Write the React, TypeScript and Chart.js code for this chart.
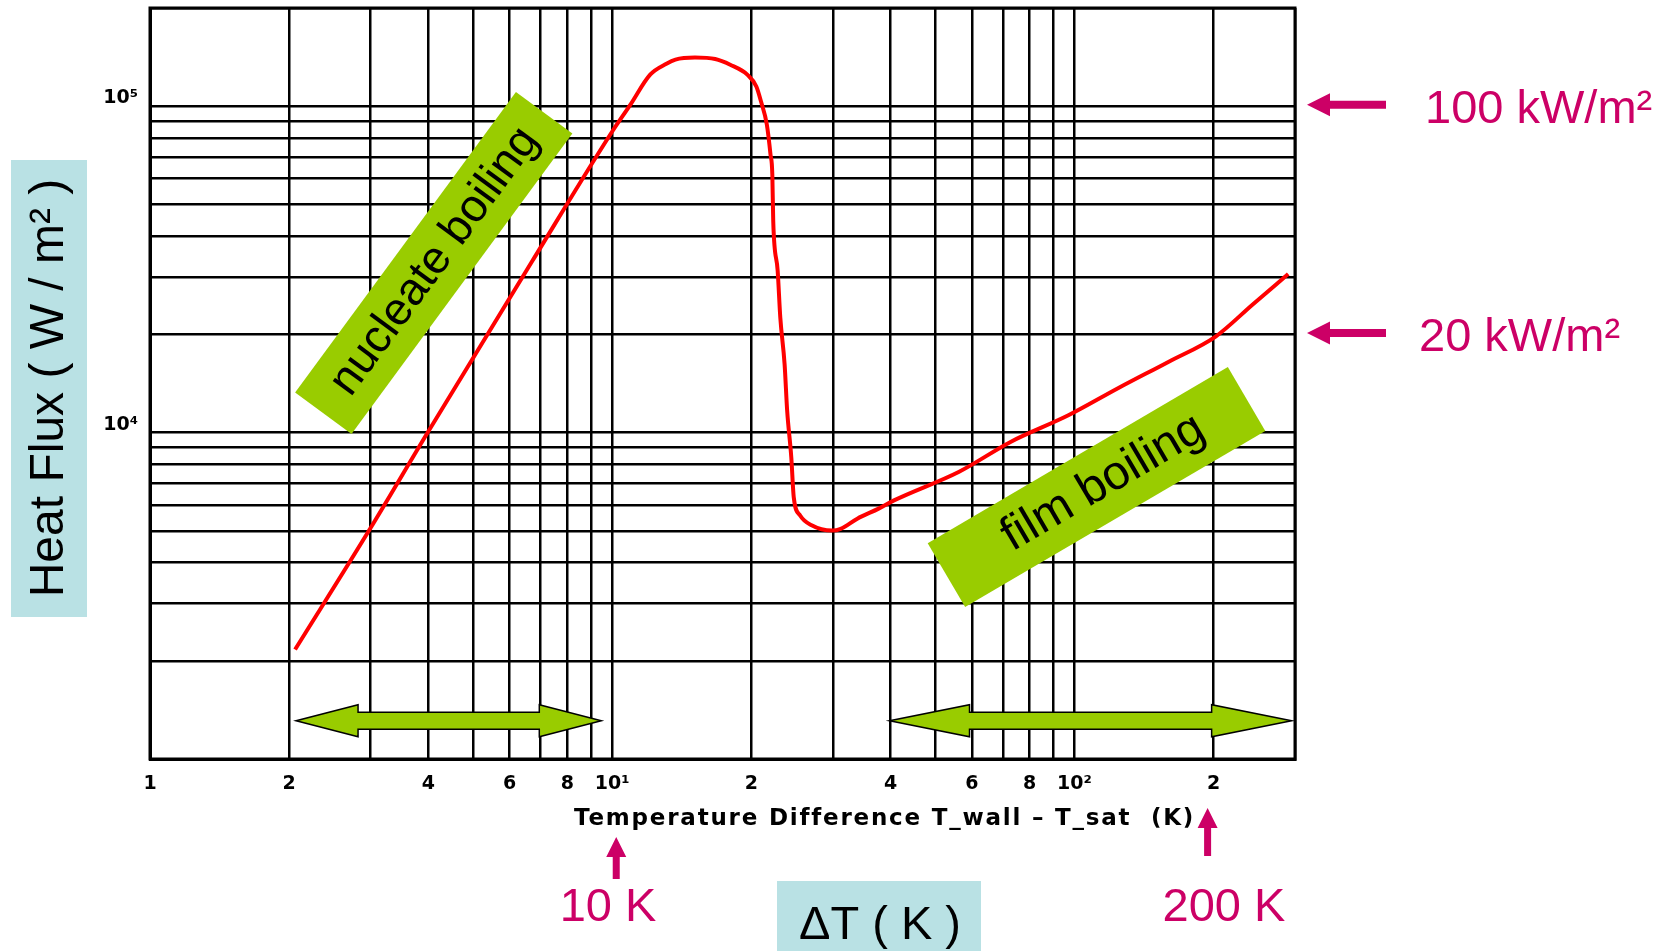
import React, { useEffect, useRef } from 'react';
import { Chart, registerables } from 'chart.js';

Chart.register(...registerables);

// ---- data ----
const deltaT = [2.06, 3.0, 3.97, 6.71, 10.0, 10.94, 12.08, 13.1, 13.7, 15.1, 16.7, 18.0, 19.6, 20.5, 21.0, 21.6, 22.0, 22.2, 22.3, 22.8, 23.1, 23.6, 23.9, 24.4, 24.7, 25.5, 27.0, 29.9, 31.2, 33.9, 37.7, 40.7, 56.3, 72.9, 97.0, 124.5, 160, 202, 243, 290];
const heatFlux = [2165, 5100, 9900, 33500, 83700, 101000, 125000, 135000, 139000, 141000, 139500, 134000, 125000, 115000, 103000, 87900, 71100, 61800, 44500, 31300, 22500, 16200, 11700, 8400, 6340, 5570, 5200, 5010, 5070, 5450, 5850, 6200, 7590, 9380, 11300, 13700, 16500, 19700, 24700, 30600];

const xGridValues = [1, 2, 3, 4, 5, 6, 7, 8, 9, 10, 20, 30, 40, 50, 60, 70, 80, 90, 100, 200, 300];
const xTickLabels = ['1', '2', '', '4', '', '6', '', '8', '', '10¹', '2', '', '4', '', '6', '', '8', '', '10²', '2', ''];
const yGridValues = [1000, 2000, 3000, 4000, 5000, 6000, 7000, 8000, 9000, 10000, 20000, 30000, 40000, 50000, 60000, 70000, 80000, 90000, 100000, 200000];
const yLabelValues = [10000, 100000];
const yLabelTexts = ['10⁴', '10⁵'];

const fluxMarkers = [100000, 20000];
const fluxMarkerLabels = ['100 kW/m²', '20 kW/m²'];
const dtMarkers = [10, 200];
const dtMarkerLabels = ['10 K', '200 K'];
const regionNames = ['nucleate boiling', 'film boiling'];
const regionCenterDT = [4.11, 111.6];
const regionCenterFlux = [33100, 6810];
const rangeStartDT = [2.07, 39.8];
const rangeEndDT = [9.47, 295];
const rangeFlux = 1310;

const X_TITLE = 'Temperature Difference T_wall – T_sat  (K)';
const Y_TITLE = 'Heat Flux ( W / m² )';
const DT_TITLE = 'ΔT ( K )';

// ---- styles ----
const MAGENTA = '#cc0066';
const GREEN = '#99cc00';
const LIGHTBLUE = '#b9e1e4';
const BIG_FONT = '47px "Liberation Sans", Arial, sans-serif';
const regionBoxes = [
  { w: 373, h: 70, angle: -53.7, font: 46, dx: 2 },
  { w: 348, h: 74, angle: -30.4, font: 48, dx: 8 },
];
const rangeHeads = [62, 80];

function hArrow(ctx: CanvasRenderingContext2D, tipX: number, tailX: number, y: number, head: number, headH: number, shaftH: number) {
  const d = tailX > tipX ? 1 : -1;
  const hx = tipX + d * head;
  ctx.beginPath();
  ctx.moveTo(tipX, y);
  ctx.lineTo(hx, y - headH / 2);
  ctx.lineTo(hx, y - shaftH / 2);
  ctx.lineTo(tailX, y - shaftH / 2);
  ctx.lineTo(tailX, y + shaftH / 2);
  ctx.lineTo(hx, y + shaftH / 2);
  ctx.lineTo(hx, y + headH / 2);
  ctx.closePath();
  ctx.fill();
}

function vArrowUp(ctx: CanvasRenderingContext2D, x: number, tipY: number, tailY: number, head: number, headW: number, shaftW: number) {
  const hy = tipY + head;
  ctx.beginPath();
  ctx.moveTo(x, tipY);
  ctx.lineTo(x + headW / 2, hy);
  ctx.lineTo(x + shaftW / 2, hy);
  ctx.lineTo(x + shaftW / 2, tailY);
  ctx.lineTo(x - shaftW / 2, tailY);
  ctx.lineTo(x - shaftW / 2, hy);
  ctx.lineTo(x - headW / 2, hy);
  ctx.closePath();
  ctx.fill();
}

function doubleArrow(ctx: CanvasRenderingContext2D, x1: number, x2: number, y: number, head: number, headH: number, shaftH: number) {
  ctx.beginPath();
  ctx.moveTo(x1, y);
  ctx.lineTo(x1 + head, y - headH / 2);
  ctx.lineTo(x1 + head, y - shaftH / 2);
  ctx.lineTo(x2 - head, y - shaftH / 2);
  ctx.lineTo(x2 - head, y - headH / 2);
  ctx.lineTo(x2, y);
  ctx.lineTo(x2 - head, y + headH / 2);
  ctx.lineTo(x2 - head, y + shaftH / 2);
  ctx.lineTo(x1 + head, y + shaftH / 2);
  ctx.lineTo(x1 + head, y + headH / 2);
  ctx.closePath();
  ctx.fillStyle = GREEN;
  ctx.fill();
  ctx.lineWidth = 1.5;
  ctx.strokeStyle = '#000';
  ctx.stroke();
}

const annotationPlugin = {
  id: 'boilingAnnotations',
  afterDraw(chart: any) {
    const { ctx, chartArea: a, scales } = chart;
    const xs = scales.x;
    const ys = scales.y;
    ctx.save();

    // frame
    ctx.strokeStyle = '#000';
    ctx.lineWidth = 3;
    ctx.strokeRect(a.left, a.top, a.right - a.left, a.bottom - a.top);

    // y tick labels
    ctx.fillStyle = '#000';
    ctx.font = 'bold 19px "DejaVu Sans", sans-serif';
    ctx.textAlign = 'right';
    ctx.textBaseline = 'middle';
    yLabelValues.forEach((v, i) => {
      ctx.fillText(yLabelTexts[i], a.left - 12, ys.getPixelForValue(v) - 8);
    });

    // green range arrows
    const ry = ys.getPixelForValue(rangeFlux);
    rangeStartDT.forEach((s, i) => {
      doubleArrow(ctx, xs.getPixelForValue(s), xs.getPixelForValue(rangeEndDT[i]), ry, rangeHeads[i], 32, 17);
    });

    // region label boxes
    regionNames.forEach((name, i) => {
      const b = regionBoxes[i];
      ctx.save();
      ctx.translate(xs.getPixelForValue(regionCenterDT[i]), ys.getPixelForValue(regionCenterFlux[i]));
      ctx.rotate((b.angle * Math.PI) / 180);
      ctx.fillStyle = GREEN;
      ctx.fillRect(-b.w / 2, -b.h / 2, b.w, b.h);
      ctx.fillStyle = '#000';
      ctx.font = `${b.font}px "Liberation Sans", Arial, sans-serif`;
      ctx.textAlign = 'center';
      ctx.textBaseline = 'middle';
      ctx.fillText(name, b.dx, 0);
      ctx.restore();
    });

    // x-axis caption (small)
    ctx.fillStyle = '#000';
    ctx.font = 'bold 23px "DejaVu Sans", sans-serif';
    ctx.textAlign = 'left';
    ctx.textBaseline = 'middle';
    const natural = ctx.measureText(X_TITLE).width;
    const target = 618;
    const ls = (target - natural) / (X_TITLE.length - 1);
    (ctx as any).letterSpacing = `${ls}px`;
    ctx.fillText(X_TITLE, 574, a.bottom + 60);
    (ctx as any).letterSpacing = '0px';

    // magenta heat-flux markers
    ctx.fillStyle = MAGENTA;
    fluxMarkers.forEach((v, i) => {
      const py = ys.getPixelForValue(v) - 1.5;
      hArrow(ctx, a.right + 12, a.right + 91, py, 23, 23, 8);
      ctx.font = BIG_FONT;
      ctx.textAlign = 'left';
      ctx.textBaseline = 'alphabetic';
      ctx.fillText(fluxMarkerLabels[i], i === 0 ? a.right + 130 : a.right + 124, py + 18);
    });

    // magenta ΔT markers
    const dtTips = [a.bottom + 78, a.bottom + 49];
    const dtTails = [a.bottom + 120, a.bottom + 97];
    const dtOffsets = [4, -6];
    const dtTextCx = [608, 1224];
    dtMarkers.forEach((v, i) => {
      const px = xs.getPixelForValue(v) + dtOffsets[i];
      vArrowUp(ctx, px, dtTips[i], dtTails[i], 20, 20, 7);
      ctx.font = BIG_FONT;
      ctx.textAlign = 'center';
      ctx.textBaseline = 'alphabetic';
      ctx.fillText(dtMarkerLabels[i], dtTextCx[i], 921);
    });

    // ΔT title box
    ctx.fillStyle = LIGHTBLUE;
    ctx.fillRect(777, 881, 204, 70);
    ctx.fillStyle = '#000';
    ctx.font = BIG_FONT;
    ctx.textAlign = 'center';
    ctx.textBaseline = 'alphabetic';
    ctx.fillText(DT_TITLE, 880, 939);

    // Y title box
    ctx.fillStyle = LIGHTBLUE;
    ctx.fillRect(11, 160, 76, 457);
    ctx.save();
    ctx.translate(50, 388);
    ctx.rotate(-Math.PI / 2);
    ctx.fillStyle = '#000';
    ctx.font = '48px "Liberation Sans", Arial, sans-serif';
    ctx.textAlign = 'center';
    ctx.textBaseline = 'middle';
    ctx.fillText(Y_TITLE, 0, 0);
    ctx.restore();

    ctx.restore();
  },
};

export default function App() {
  const canvasRef = useRef<HTMLCanvasElement>(null);

  useEffect(() => {
    document.body.style.margin = '0';
    const canvas = canvasRef.current;
    if (!canvas) return;
    const chart = new Chart(canvas, {
      type: 'scatter',
      data: {
        datasets: [
          {
            data: deltaT.map((x, i) => ({ x, y: heatFlux[i] })),
            showLine: true,
            borderColor: '#ff0000',
            backgroundColor: '#ff0000',
            borderWidth: 4,
            pointRadius: 0,
            cubicInterpolationMode: 'monotone',
          },
        ],
      },
      options: {
        responsive: false,
        animation: false,
        devicePixelRatio: 1,
        layout: { padding: { top: 8, right: 373, left: 0, bottom: 0 } },
        plugins: { legend: { display: false }, tooltip: { enabled: false } },
        scales: {
          x: {
            type: 'logarithmic',
            position: 'bottom',
            min: 1,
            max: 300,
            afterBuildTicks: (s: any) => {
              s.ticks = xGridValues.map((v) => ({ value: v }));
            },
            afterFit: (s: any) => {
              s.height = 192;
            },
            grid: { color: '#000', lineWidth: 2.5, drawTicks: false },
            border: { color: '#000', width: 3 },
            ticks: {
              autoSkip: false,
              maxRotation: 0,
              minRotation: 0,
              padding: 14,
              color: '#000',
              font: { family: '"DejaVu Sans", sans-serif', size: 19, weight: 'bold' },
              callback: (_v: any, i: number) => xTickLabels[i] ?? '',
            },
          },
          y: {
            type: 'logarithmic',
            position: 'left',
            min: 1000,
            max: 200000,
            afterBuildTicks: (s: any) => {
              s.ticks = yGridValues.map((v) => ({ value: v }));
            },
            afterFit: (s: any) => {
              s.width = 150;
            },
            grid: { color: '#000', lineWidth: 2.5, drawTicks: false },
            border: { color: '#000', width: 3 },
            ticks: { display: false },
          },
        },
      } as any,
      plugins: [annotationPlugin],
    });
    return () => chart.destroy();
  }, []);

  return (
    <div style={{ width: 1668, height: 951, position: 'relative', background: '#fff' }}>
      <canvas ref={canvasRef} width={1668} height={951} style={{ display: 'block' }} />
    </div>
  );
}
